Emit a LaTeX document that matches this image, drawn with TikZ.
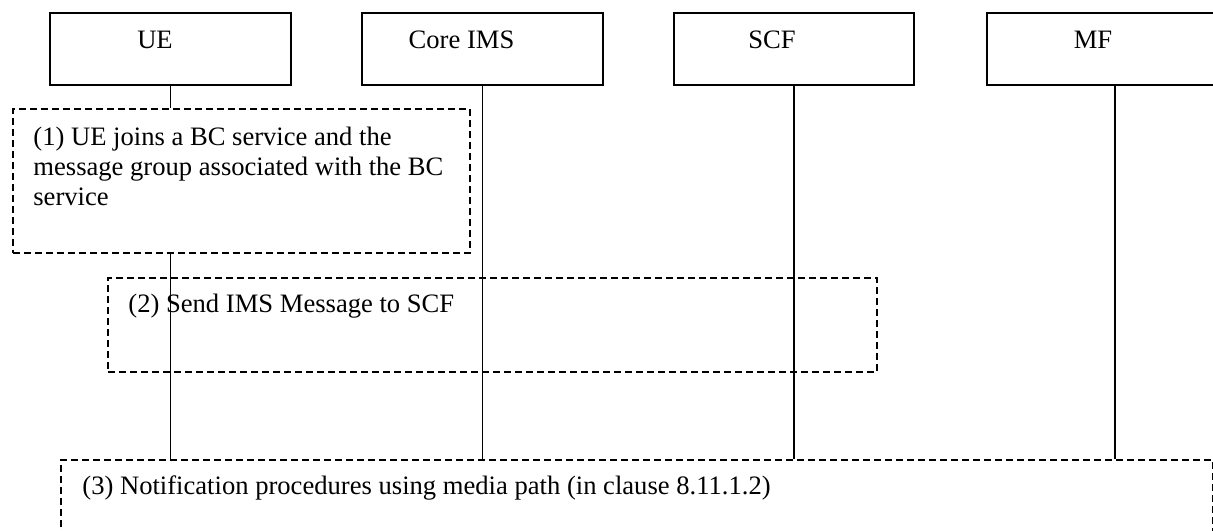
\documentclass[tikz,border=0pt]{standalone}
\usepackage{fontspec}
\setmainfont{Liberation Serif}

\begin{document}
\begin{tikzpicture}[x=0.5pt, y=-0.5pt,
  entity/.style={draw, line width=0.8pt, inner sep=0pt, minimum height=36pt},
  entitytext/.style={anchor=base, inner sep=0pt, font=\fontsize{13.3}{15}\selectfont},
  stepbox/.style={draw, dash pattern=on 3.5pt off 2pt, line width=0.8pt, inner sep=0pt, anchor=north west},
  steptext/.style={anchor=base west, inner sep=0pt, font=\fontsize{13.3}{15}\selectfont, align=flush left},
  lifeline/.style={line width=0.8pt}]
\useasboundingbox (0,0) rectangle (1213,530);

% Entities along the top
\node[entity, minimum width=120.5pt] (ue) at (170.5,49) {};
\node[entity, minimum width=120.5pt] (core) at (482.5,49) {};
\node[entity, minimum width=120pt] (scf) at (794,49) {};
\node[entity, minimum width=128pt] (mf) at (1115,49) {};
\node[entitytext] (uetext) at (155,48) {UE};
\node[entitytext] (coretext) at (461.5,48) {Core IMS};
\node[entitytext] (scftext) at (772,48) {SCF};
\node[entitytext] (mftext) at (1093,48) {MF};

% Step 1 - join BC service
\node[stepbox, minimum width=228.5pt, minimum height=72pt] (s1) at (12,108) {};
\node[steptext, text width=215pt] (t1) at (33,145) {(1) UE joins a BC service and the\\
  message group associated with the BC\\
  service};

% Step 2 - IMS message
\node[stepbox, minimum width=384.5pt, minimum height=47pt] (s2) at (107,277) {};
\node[steptext] (t2) at (128,312) {(2) Send IMS Message to SCF};

% Step 3 - notification
\node[stepbox, minimum width=576pt, minimum height=50pt] (s3) at (60,459) {};
\node[steptext] (t3) at (82,494) {(3) Notification procedures using media path (in clause 8.11.1.2)};

% Lifelines
\draw[lifeline] (ue.south) -- (ue.south |- s1.north);
\draw[lifeline] (ue.south |- s1.south) -- (ue.south |- s3.north);
\foreach \e in {core, scf, mf}
  \draw[lifeline] (\e.south) -- (\e.south |- s3.north);
\end{tikzpicture}
\end{document}
